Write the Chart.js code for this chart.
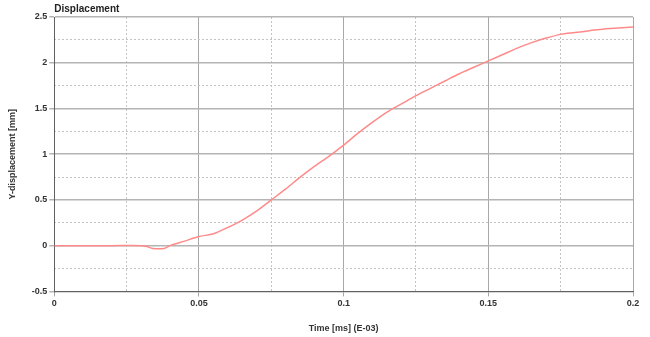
<!DOCTYPE html>
<html>
<head>
<meta charset="utf-8">
<script src="https://cdn.jsdelivr.net/npm/chart.js@4/dist/chart.umd.min.js"></script>
<style>
  html, body { margin: 0; padding: 0; background: #fff; }
  #wrap { width: 650px; height: 337px; }
</style>
</head>
<body>
<div id="wrap"><canvas id="chart" width="650" height="337"></canvas></div>
<script>
const timeMs = [0, 0.01, 0.02, 0.03, 0.032, 0.034, 0.038, 0.04, 0.045, 0.05, 0.055, 0.06, 0.065, 0.07, 0.075,
  0.08, 0.085, 0.09, 0.095, 0.1, 0.105, 0.11, 0.115, 0.12, 0.125, 0.13, 0.135, 0.14, 0.145, 0.15,
  0.155, 0.16, 0.165, 0.17, 0.175, 0.18, 0.185, 0.19, 0.195, 0.2];
const yDisp = [0, 0, 0, 0, -0.01, -0.03, -0.03, 0.0, 0.05, 0.1, 0.13, 0.2, 0.28, 0.38, 0.5,
  0.62, 0.75, 0.87, 0.98, 1.1, 1.23, 1.35, 1.46, 1.55, 1.64, 1.72, 1.8, 1.88, 1.95, 2.02,
  2.09, 2.16, 2.22, 2.27, 2.31, 2.33, 2.35, 2.37, 2.38, 2.39];
const xTickLabels = ["0", "0.05", "0.1", "0.15", "0.2"];
const yTickLabels = ["-0.5", "0", "0.5", "1", "1.5", "2", "2.5"];

const font = { family: "'Liberation Sans', Arial, sans-serif", size: 9, weight: "bold" };
const isMajor = (v, step) => Math.abs(v / step - Math.round(v / step)) < 1e-6;

new Chart(document.getElementById("chart"), {
  type: "line",
  data: {
    datasets: [{
      label: "Y-displacement",
      data: timeMs.map((t, i) => ({ x: t, y: yDisp[i] })),
      borderColor: "#ff8a8a",
      borderWidth: 1.5,
      pointRadius: 0,
      tension: 0.3,
    }],
  },
  options: {
    responsive: false,
    animation: false,
    layout: { padding: { top: 1, right: 17, bottom: 3, left: 7 } },
    plugins: {
      legend: { display: false },
      tooltip: { enabled: false },
      title: {
        display: true,
        text: "Displacement",
        align: "start",
        fullSize: false,
        color: "#222",
        font: { family: font.family, size: 10, weight: "bold" },
        padding: { top: 2, bottom: 2 },
      },
    },
    scales: {
      x: {
        type: "linear",
        min: 0,
        max: 0.2,
        ticks: {
          stepSize: 0.05,
          color: "#333",
          font,
          padding: 2,
          callback: (v) => xTickLabels[Math.round(v / 0.05)],
        },
        grid: { color: "#a8a8a8", lineWidth: 1, tickLength: 5 },
        border: { color: "#606060" },
        title: {
          display: true,
          text: "Time [ms] (E-03)",
          color: "#333",
          font,
          padding: { top: 12, bottom: 0 },
        },
      },
      x2: {
        type: "linear",
        min: 0,
        max: 0.2,
        position: "bottom",
        display: true,
        ticks: { stepSize: 0.025, display: false },
        grid: {
          color: (c) => (isMajor(c.tick.value, 0.05) ? "rgba(0,0,0,0)" : "#c4c4c4"),
          lineWidth: 1,
          drawTicks: false,
        },
        border: { display: false, dash: [2, 2] },
      },
      y: {
        min: -0.5,
        max: 2.5,
        ticks: {
          stepSize: 0.5,
          color: "#333",
          font,
          padding: 2,
          callback: (v) => yTickLabels[Math.round((v + 0.5) / 0.5)],
        },
        grid: { color: "#b4b4b4", lineWidth: 1.5, tickLength: 5 },
        border: { color: "#606060" },
        title: {
          display: true,
          text: "Y-displacement [mm]",
          color: "#333",
          font,
          padding: { top: 0, bottom: 12 },
        },
      },
      y2: {
        min: -0.5,
        max: 2.5,
        position: "left",
        display: true,
        ticks: { stepSize: 0.25, display: false },
        grid: {
          color: (c) => (isMajor(c.tick.value, 0.5) ? "rgba(0,0,0,0)" : "#c4c4c4"),
          lineWidth: 1,
          drawTicks: false,
        },
        border: { display: false, dash: [2, 2] },
      },
    },
  },
});
</script>
</body>
</html>
